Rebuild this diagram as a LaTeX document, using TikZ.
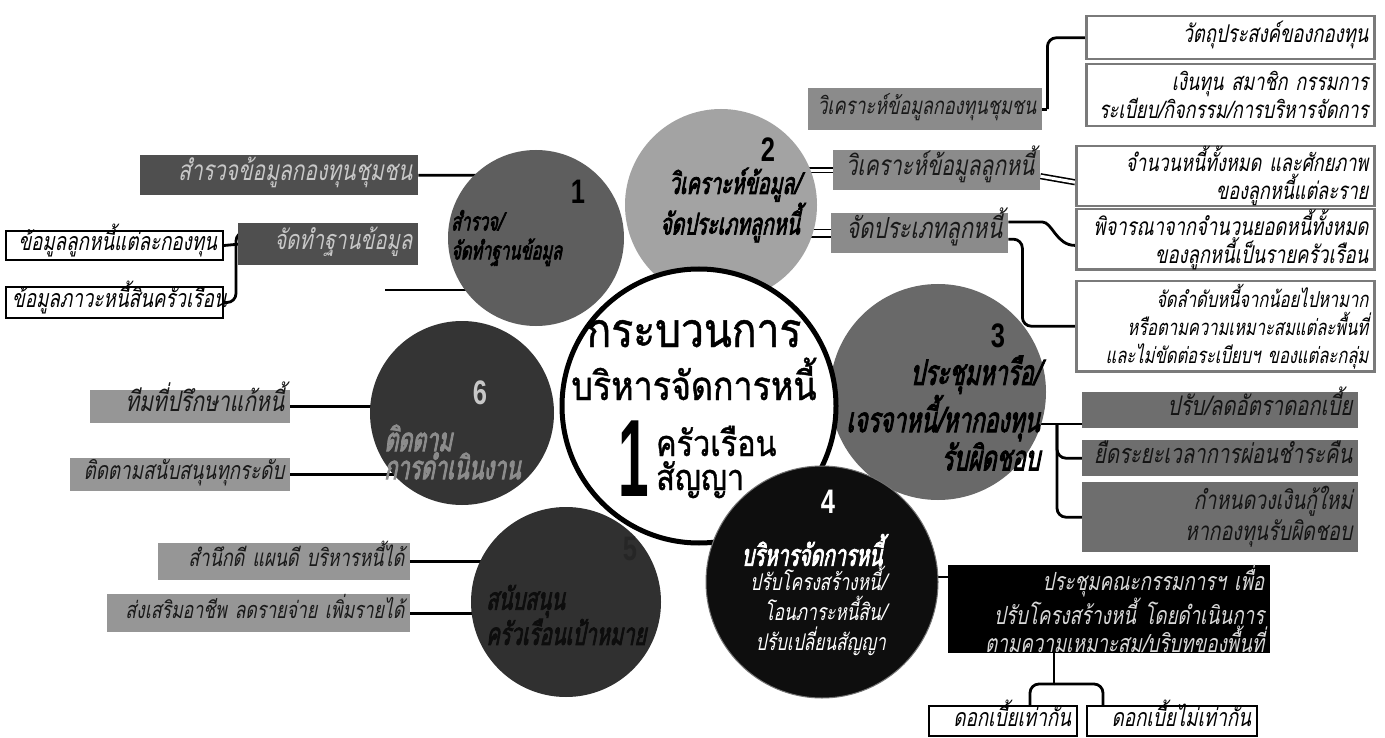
\documentclass[tikz,border=0pt]{standalone}
\usepackage{fontspec}
\setmainfont[Script=Thai]{Loma}
\newfontfamily\thit[Script=Thai,FakeSlant=0.2,FakeStretch=0.75]{Loma}
\newfontfamily\thbi[Script=Thai,FakeSlant=0.2,FakeStretch=0.65,FakeBold=2.5]{Loma}
\newfontfamily\thc[Script=Thai,FakeStretch=0.85,FakeBold=1]{Loma}
\newfontfamily\numf{Liberation Sans}
\usetikzlibrary{calc}
\pgfdeclarelayer{back}
\pgfdeclarelayer{bg}
\pgfsetlayers{back,bg,main}
\definecolor{dbox}{HTML}{4F4F4F}
\definecolor{dtext}{HTML}{C8C8C8}
\definecolor{mbox}{HTML}{8B8B8B}
\definecolor{lbox}{HTML}{969696}
\definecolor{pbox}{HTML}{6E6E6E}
\definecolor{wborder}{HTML}{7A7A7A}
\definecolor{cA}{HTML}{5E5E5E}
\definecolor{cB}{HTML}{A3A3A3}
\definecolor{cC}{HTML}{696969}
\definecolor{cD}{HTML}{0E0E0E}
\definecolor{cE}{HTML}{303030}
\definecolor{cF}{HTML}{343434}
\begin{document}
\begin{tikzpicture}[x=1pt,y=-1pt,
  fs/.style 2 args={font=\thit\fontsize{#1}{#2}\selectfont},
  bfs/.style 2 args={font=\thbi\fontsize{#1}{#2}\selectfont},
  one/.style={text height=15pt, text depth=5pt},
  lbl/.style={inner xsep=6pt, inner ysep=0pt, align=right, anchor=north west},
  darkbox/.style={lbl, fill=dbox, text=dtext},
  midbox/.style={lbl, fill=mbox, text=black!90},
  lgbox/.style={lbl, fill=lbox, text=black!90},
  pbx/.style={lbl, fill=pbox, text=black!92},
  wbox/.style={lbl, fill=white, draw=wborder, line width=2.5pt, text=black},
  bwbox/.style={lbl, fill=white, draw=black, line width=2pt, text=black},
  blkbox/.style={lbl, fill=black, text=black!15},
  circ/.style={circle, inner sep=0pt},
  ctext/.style={inner sep=0pt},
  numtxt/.style={font=\numf\bfseries\fontsize{34}{34}\selectfont, inner sep=0pt},
  conn/.style={line width=2.8pt, rounded corners=9pt},
]
\begin{pgfonlayer}{back}
\fill[white] (0,0) rectangle (1385,738);
\end{pgfonlayer}
\useasboundingbox (0,0) rectangle (1385,738);

% ---------- circles (behind) ----------
\node[circ, fill=cA, minimum size=176pt] (c1) at (536,238) {};
\node[numtxt, text=black] (c1n) at (578,192) {\scalebox{0.75}[1]{1}};
\node[ctext, bfs={25}{29}, text=black, anchor=west, align=left] (c1t) at (451,238) {สำรวจ/\\จัดทำฐานข้อมูล};

\node[circ, fill=cB, minimum size=192pt] (c2) at (721,205) {};
\node[numtxt, text=black] (c2n) at (768,150) {\scalebox{0.75}[1]{2}};
\node[ctext, bfs={30}{28}, text=black, anchor=east, align=right] (c2t) at (800,205) {วิเคราะห์ข้อมูล/\\จัดประเภทลูกหนี้};

\node[circ, fill=cC, minimum size=216pt] (c3) at (938,392) {};
\node[numtxt, text=black] (c3n) at (998,336) {\scalebox{0.75}[1]{3}};
\node[ctext, bfs={35}{31}, text=black, anchor=east, align=right] (c3t) at (1040,413) {ประชุมหารือ/\\เจรจาหนี้/หากองทุน\\รับผิดชอบ};

\node[circ, fill=cF, minimum size=184pt] (c6) at (462,413) {};
\node[numtxt, text=black!22] (c6n) at (480,393) {\scalebox{0.75}[1]{6}};
\node[ctext, bfs={33}{27}, text=black!45, anchor=west, align=left] (c6t) at (384,452) {ติดตาม\\การดำเนินงาน};

\node[circ, fill=cE, minimum size=190pt] (c5) at (566,602) {};
\node[numtxt, text=black!85] (c5n) at (630,549) {\scalebox{0.75}[1]{5}};
\node[ctext, bfs={31}{30}, text=black!95, anchor=west, align=left] (c5t) at (486,615) {สนับสนุน\\ครัวเรือนเป้าหมาย};

% ---------- centre ----------
\node[circ, fill=white, draw=black, line width=5pt, minimum size=274pt] (cc) at (699,406) {};
\node[font=\thc\fontsize{48}{48}\selectfont, inner sep=0pt, anchor=base] (cct1) at (694,347) {กระบวนการ};
\node[font=\thc\fontsize{40}{40}\selectfont, inner sep=0pt, anchor=base] (cct2) at (694,400) {บริหารจัดการหนี้};
\node[font=\numf\bfseries\fontsize{110}{110}\selectfont, inner sep=0pt, anchor=base] (cone) at (634,496) {\scalebox{0.5}[1]{1}};
\node[font=\thc\fontsize{36}{36}\selectfont, inner sep=0pt, anchor=base west] (cct3) at (656,456) {ครัวเรือน};
\node[font=\thc\fontsize{36}{36}\selectfont, inner sep=0pt, anchor=base west] (cct4) at (656,490) {สัญญา};

% ---------- circle 4 (front) ----------
\node[circ, fill=cD, draw=black!55, line width=1pt, minimum size=232pt] (c4) at (822,582) {};
\node[numtxt, text=white] (c4n) at (828,502) {\scalebox{0.75}[1]{4}};
\node[bfs={30}{30}, text=white, inner sep=0pt] (c4h) at (812,550) {บริหารจัดการหนี้};
\node[fs={23}{30}, text=white, inner sep=0pt, anchor=north east, align=right] (c4t) at (886,566) {ปรับโครงสร้างหนี้/\\โอนภาระหนี้สิน/\\ปรับเปลี่ยนสัญญา};

% ---------- left boxes ----------
\node[darkbox, fs={28}{30}, one, text width=266pt, minimum height=40pt] (sv) at (140,155) {สำรวจข้อมูลกองทุนชุมชน};
\node[darkbox, fs={27}{30}, one, text width=168pt, minimum height=42pt] (jt) at (238,223) {จัดทำฐานข้อมูล};
\node[bwbox, fs={25}{28}, one, text width=205pt, minimum height=29pt] (k1) at (5,230) {ข้อมูลลูกหนี้แต่ละกองทุน};
\node[bwbox, fs={25}{28}, one, text width=205pt, minimum height=31pt] (k2) at (5,286) {ข้อมูลภาวะหนี้สินครัวเรือน};
\coordinate (free1) at (385,290);

\node[lgbox, fs={28}{30}, one, text width=188pt, minimum height=33pt] (t1) at (90,390) {ทีมที่ปรึกษาแก้หนี้};
\node[lgbox, fs={25}{30}, one, text width=208pt, minimum height=33pt] (t2) at (70,458) {ติดตามสนับสนุนทุกระดับ};
\node[lgbox, fs={24}{30}, one, text width=240pt, minimum height=37pt] (f1) at (158,543) {สำนึกดี แผนดี บริหารหนี้ได้};
\node[lgbox, fs={23.5}{30}, one, text width=291pt, minimum height=38pt] (f2) at (107,594) {ส่งเสริมอาชีพ ลดรายจ่าย เพิ่มรายได้};

% ---------- right boxes ----------
\node[midbox, fs={24}{30}, one, text width=222pt, minimum height=42pt] (wa) at (808,88) {วิเคราะห์ข้อมูลกองทุนชุมชน};
\node[wbox, fs={24.5}{30}, one, text width=276pt, minimum height=43pt] (r1) at (1085,15) {วัตถุประสงค์ของกองทุน};
\node[wbox, fs={24}{28}, text width=276pt, minimum height=62pt] (r2) at (1085,63) {เงินทุน สมาชิก กรรมการ\\ระเบียบ/กิจกรรม/การบริหารจัดการ};
\node[midbox, fs={28}{30}, one, text width=195pt, minimum height=40pt] (wb) at (833,150) {วิเคราะห์ข้อมูลลูกหนี้};
\node[wbox, fs={24}{28}, text width=286pt, minimum height=60pt] (r3) at (1075,145) {จำนวนหนี้ทั้งหมด และศักยภาพ\\ของลูกหนี้แต่ละราย};
\node[midbox, fs={29}{30}, one, text width=165pt, minimum height=40pt] (wc) at (831,213) {จัดประเภทลูกหนี้};
\node[wbox, fs={24.5}{28}, text width=286pt, minimum height=60pt] (r4) at (1075,208) {พิจารณาจากจำนวนยอดหนี้ทั้งหมด\\ของลูกหนี้เป็นรายครัวเรือน};
\node[wbox, fs={22}{28}, text width=286pt, minimum height=90pt] (r5) at (1075,280) {จัดลำดับหนี้จากน้อยไปหามาก\\หรือตามความเหมาะสมแต่ละพื้นที่\\และไม่ขัดต่อระเบียบฯ ของแต่ละกลุ่ม};

\node[pbx, fs={27}{30}, one, text width=264pt, minimum height=36pt] (p1) at (1082,392) {ปรับ/ลดอัตราดอกเบี้ย};
\node[pbx, fs={27}{30}, one, text width=264pt, minimum height=36pt] (p2) at (1082,440) {ยืดระยะเวลาการผ่อนชำระคืน};
\node[pbx, fs={26}{31}, text width=264pt, minimum height=70pt] (p3) at (1082,482) {กำหนดวงเงินกู้ใหม่\\หากองทุนรับผิดชอบ};

\node[blkbox, fs={25}{26}, text width=310pt, minimum height=87pt] (bb) at (948,565) {ประชุมคณะกรรมการฯ เพื่อ\\ปรับโครงสร้างหนี้ โดยดำเนินการ\\ตามความเหมาะสม/บริบทของพื้นที่};
\node[bwbox, fs={25}{28}, one, text width=136pt, minimum height=30pt] (d1) at (928,705) {ดอกเบี้ยเท่ากัน};
\node[bwbox, fs={25}{28}, one, text width=158pt, minimum height=30pt] (d2) at (1086,705) {ดอกเบี้ยไม่เท่ากัน};

\coordinate (j3) at (1057,424);
\coordinate (bbw) at ($(bb.north west)+(0,12)$);
\coordinate (jb) at (1054,684);

% ---------- connectors (behind boxes and circles) ----------
\begin{pgfonlayer}{bg}
\draw[conn] (sv.east) -| (c1.center);
\draw[conn] (k1.east) -- (jt.west);
\draw[conn] (k2.east) -- ++(12,0) |- ($(jt.north west)+(0,9)$);
\draw[conn] (free1) -- (c1.center |- free1);
\draw[conn] (t1.east) -- (c6.center |- t1.east);
\draw[conn] (t2.east) -- (c6.center |- t2.east);
\draw[conn] (f1.east) -- (c5.center |- f1.east);
\draw[conn] (f2.east) -- (c5.center |- f2.east);
\draw[conn] ($(wa.east)+(5,0)$) |- (r1.west);
\draw[conn] (wa.east) -- ($(wa.east)+(5,0)$);
\draw[line width=1.6pt, double, double distance=3pt] (c2.center |- wb.west) -- (wb.west);
\draw[line width=1.6pt, double, double distance=3pt] ($(wb.east)+(0,6)$) -- ($(r3.west)+(0,6)$);
\draw[line width=1.6pt, double, double distance=6pt] (c2.center |- wc.west) -- (wc.west);
\draw[conn] ($(wc.north east)+(0,9)$) -- ++(25,0) to[out=0,in=180] ($(r4.west)+(0,6)$);
\draw[conn] ($(wc.east)+(0,6)$) -- ++(14,0) |- (r5.west);
\draw[conn] (c3.center |- j3) -- (j3 -| p1.west);
\draw[conn] (j3) |- (p2.west);
\draw[conn] (j3) |- (p3.west);
\draw[conn] (c4.center |- bbw) -- (bbw);
\draw[conn] (jb |- bb.south) -- (jb);
\draw[conn] (jb) -| ($(d1.north)+(27,0)$);
\draw[conn] (jb) -| ($(d2.north west)+(17,0)$);
\end{pgfonlayer}
\end{tikzpicture}
\end{document}
